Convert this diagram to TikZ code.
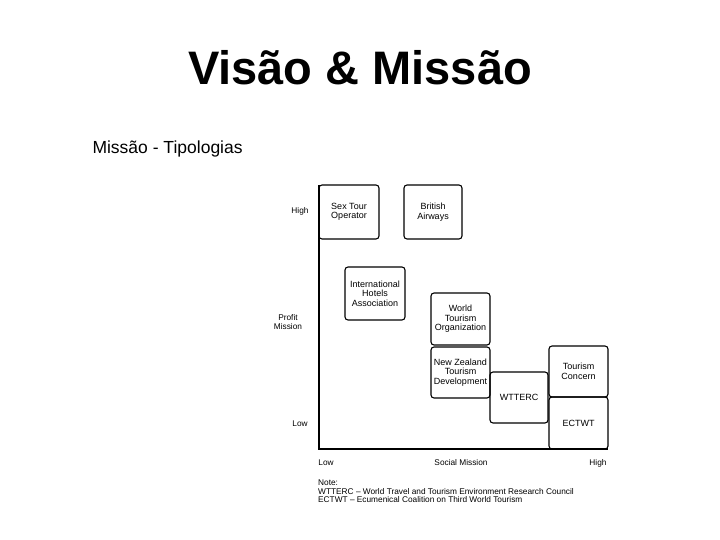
\documentclass[tikz,border=0pt]{standalone}
\usepackage{fontspec}
\setmainfont{Liberation Sans}
\begin{document}
\begin{tikzpicture}[x=1pt,y=-1pt,
  bx/.style={draw,line width=1.1pt,rounded corners=3pt,align=center,font=\fontsize{9}{9.5}\selectfont,inner sep=0pt},
  lbl/.style={font=\fontsize{8.3}{9}\selectfont,align=center,inner sep=0pt}]
\useasboundingbox (0,0) rectangle (720,540);
\node[font=\bfseries\fontsize{47}{50}\selectfont] (title) at (360,68) {Visão \& Missão};
\node[anchor=west,font=\fontsize{17.5}{19}\selectfont] (sub) at (89,149) {Missão - Tipologias};
\coordinate (top) at (319,185);
\coordinate (orig) at (319,449);
\coordinate (right) at (608,449);
\draw[line width=1.1pt] (top) -- (orig) -- (right);
\node[bx,minimum width=60pt,minimum height=54pt] (sto) at (349,212) {Sex Tour\\Operator};
\node[bx,minimum width=58pt,minimum height=54pt] (ba) at (433,212) {British\\Airways};
\node[bx,minimum width=60pt,minimum height=53pt] (iha) at (375,293.5) {International\\Hotels\\Association};
\node[bx,minimum width=59pt,minimum height=52pt] (wto) at (460.5,319) {World\\Tourism\\Organization};
\node[bx,minimum width=59pt,minimum height=51pt] (nztd) at (460.5,372.5) {New Zealand\\Tourism\\Development};
\node[bx,minimum width=58pt,minimum height=51pt] (wtterc) at (519,397.5) {WTTERC};
\node[bx,minimum width=59pt,minimum height=51pt] (tc) at (578.5,371.5) {Tourism\\Concern};
\node[bx,minimum width=59pt,minimum height=52pt] (ectwt) at (578.5,423) {ECTWT};
\node[lbl] (yh) at (300,211) {High};
\node[lbl] (ypm) at (288,322) {Profit\\Mission};
\node[lbl] (yl) at (300,424) {Low};
\node[lbl] (xl) at (326,463) {Low};
\node[lbl] (xsm) at (461,463) {Social Mission};
\node[lbl] (xh) at (598,463) {High};
\node[lbl,anchor=north west,align=left,font=\fontsize{8.3}{8.5}\selectfont] (note) at (318,480) {Note:\\WTTERC -- World Travel and Tourism Environment Research Council\\ECTWT -- Ecumenical Coalition on Third World Tourism};
\end{tikzpicture}
\end{document}
